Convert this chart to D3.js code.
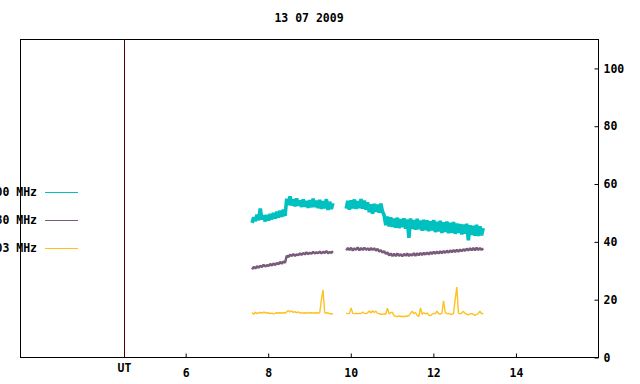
<!DOCTYPE html>
<html>
<head>
<meta charset="utf-8">
<script src="https://cdn.jsdelivr.net/npm/d3@7"></script>
<style>
  html, body { margin: 0; padding: 0; background: #fff; }
  svg { display: block; }
</style>
</head>
<body>
<div id="chart"></div>
<script>
(function () {

  // ── Data (hours UT, values) ─────────────────────────────────────────────
  var TITLE = "13 07 2009";
  var X_TICKS = [6, 8, 10, 12, 14];
  var Y_TICKS = [0, 20, 40, 60, 80, 100];
  var UT_MARK = 4.53;

  // each series is recorded in two runs, sampled every STEP hours
  var STEP = 0.04;
  var RUN_START = [7.62, 9.90];

  var cyanRun1 = [46.4, 48.3, 47.0, 49.2, 47.3, 51.4, 47.6, 49.0, 46.9, 49.1,
    47.2, 49.5, 47.6, 49.8, 47.9, 50.3, 48.2, 50.6, 48.5, 51.0,
    48.8, 54.8, 52.6, 55.6, 52.4, 54.6, 52.1, 54.9, 52.3, 54.2,
    51.9, 54.5, 52.0, 54.0, 51.6, 54.3, 51.8, 54.8, 51.9, 54.1,
    51.5, 54.4, 51.2, 53.9, 51.4, 54.6, 50.9, 53.7, 51.2, 53.2];
  var cyanRun2 = [51.3, 54.0, 51.0, 54.2, 51.4, 54.5, 51.2, 53.9, 51.5, 54.6,
    51.3, 54.1, 51.0, 53.5, 50.1, 52.8, 49.6, 53.0, 50.2, 52.7,
    49.9, 53.1, 50.3, 49.0, 45.6, 48.6, 45.2, 48.3, 45.0, 47.9,
    44.7, 48.2, 44.6, 47.7, 44.9, 48.0, 44.4, 47.6, 41.2, 47.9,
    44.3, 47.4, 44.0, 47.8, 44.2, 47.2, 43.7, 47.5, 43.9, 47.3,
    43.5, 46.9, 43.8, 47.4, 43.2, 46.8, 43.4, 47.1, 42.9, 46.6,
    43.3, 46.9, 42.8, 46.4, 43.0, 46.7, 42.6, 46.2, 42.9, 46.0,
    42.4, 45.8, 42.7, 46.1, 40.4, 45.6, 42.2, 45.4, 42.0, 45.7,
    41.9, 45.2, 42.1, 44.6];

  var purpleRun1 = [30.3, 31.2, 30.6, 31.4, 30.9, 31.6, 31.1, 31.9, 31.3, 31.8,
    31.5, 32.2, 31.6, 32.4, 31.8, 32.5, 32.1, 32.9, 32.3, 33.0,
    32.6, 35.0, 34.6, 35.4, 34.9, 35.6, 35.0, 35.5, 35.2, 35.9,
    35.3, 36.0, 35.5, 36.2, 35.6, 36.1, 35.7, 36.4, 35.8, 36.2,
    35.9, 36.5, 35.8, 36.4, 36.0, 36.7, 35.9, 36.3, 36.0, 36.6];
  var purpleRun2 = [36.9, 37.7, 37.0, 37.8, 36.8, 37.6, 37.1, 37.9, 36.9, 37.7,
    37.0, 37.8, 37.1, 37.6, 36.9, 37.7, 37.0, 37.6,
    36.8, 37.4, 36.5, 37.0, 36.1, 36.6, 35.7, 36.2, 35.1, 35.8, 34.9,
    35.7, 34.9, 35.8, 35.0, 35.6, 34.8, 35.7, 35.0, 35.8, 34.9, 35.6, 35.1, 35.9, 35.0,
    35.9, 35.2, 36.0, 35.3, 36.1, 35.4, 36.2, 35.4, 36.3, 35.6, 36.4, 35.7, 36.5, 35.8,
    36.6, 35.9, 36.7,
    36.0, 36.8, 36.1, 36.9, 36.2, 37.0, 36.3, 37.1, 36.4, 37.2,
    36.6, 37.3, 36.7, 37.5, 36.8, 37.6, 36.9, 37.7, 36.9, 37.8,
    37.0, 37.7, 37.0, 37.6];

  var yellowRun1 = [15.4, 14.8, 15.5, 15.0, 15.3, 15.4, 15.2, 15.5, 15.4, 15.2,
    15.3, 15.0, 15.2, 14.9, 15.1, 15.3, 15.2, 15.3, 15.2, 15.3,
    15.2, 15.6, 16.1, 15.6, 15.9, 15.4, 15.7, 15.3, 15.6, 15.3,
    15.2, 15.2, 15.3, 15.1, 15.4, 15.2, 15.3, 15.2, 15.2, 15.3,
    15.2, 15.3, 19.8, 23.2, 15.3, 15.2, 15.3, 14.9, 15.0, 14.8];
  var yellowRun2 = [15.1, 15.0, 15.1, 17.0, 15.1, 15.0, 15.1, 15.0, 15.1, 15.0,
    15.6, 15.1, 15.0, 15.3, 15.9, 15.2, 16.0, 15.4, 15.9, 15.1,
    15.0, 14.8, 14.8, 14.9, 14.8, 16.9, 14.9, 15.3, 15.5, 14.3,
    14.1, 14.0, 14.2, 14.0, 14.1, 13.9, 14.2, 14.1, 14.3, 15.1,
    15.9, 15.0, 15.4, 14.4, 14.0, 17.0, 14.8, 15.3, 14.9, 15.2,
    14.5, 14.3, 14.8, 15.1, 15.0, 15.9, 15.0, 14.8, 15.2, 19.4,
    15.4, 15.0, 15.1, 14.8, 14.8, 15.0, 19.8, 24.2, 15.2, 14.9,
    15.2, 15.8, 15.1, 14.8, 14.6, 14.9, 15.0, 14.8, 14.4, 14.7,
    15.0, 15.9, 14.9, 15.2];

  var SERIES_NAMES  = ["3000 MHz", "1880 MHz", "1003 MHz"];
  var SERIES_COLORS = ["#00c0c0", "#7a5a7a", "#ffc020"];
  var SERIES_WIDTH  = [3.6, 2.4, 1.4];
  var SERIES_RUNS   = [[cyanRun1, cyanRun2], [purpleRun1, purpleRun2], [yellowRun1, yellowRun2]];

  // ── Layout ─────────────────────────────────────────────────────────────
  var W = 640, H = 384;
  var M = { left: 20, right: 42, top: 39, bottom: 27 };
  var FONT = "'DejaVu Sans Mono', 'Liberation Mono', monospace";

  var svg = d3.select("#chart").append("svg")
    .attr("width", W)
    .attr("height", H)
    .style("font-family", FONT)
    .style("font-size", "11.5px")
    .style("font-weight", "bold");

  var x = d3.scaleLinear().domain([2, 16]).range([M.left, W - M.right]);
  var y = d3.scaleLinear().domain([0, 110]).range([H - M.bottom, M.top]);

  // ── Title ──────────────────────────────────────────────────────────────
  svg.append("text")
    .attr("x", (M.left + W - M.right) / 2)
    .attr("y", 22)
    .attr("text-anchor", "middle")
    .attr("fill", "#000")
    .text(TITLE);

  // ── Frame & axes ───────────────────────────────────────────────────────
  svg.append("rect")
    .attr("x", x(2) + 0.5).attr("y", y(110) + 0.5)
    .attr("width", x(16) - x(2)).attr("height", y(0) - y(110))
    .attr("fill", "none")
    .attr("stroke", "#000")
    .attr("stroke-width", 1);

  // bottom axis: inward ticks
  var xAxis = d3.axisBottom(x).tickValues(X_TICKS).tickSize(-4).tickPadding(8)
    .tickFormat(d3.format("d"));
  var gx = svg.append("g")
    .attr("transform", "translate(0.5," + (y(0) + 0.5) + ")")
    .call(xAxis);
  gx.select(".domain").remove();
  gx.selectAll("line").attr("stroke", "#000");
  gx.selectAll("text")
    .attr("y", 11)
    .attr("fill", "#000")
    .style("font-family", FONT).style("font-size", "11.5px").style("font-weight", "bold");

  // right axis: inward ticks, labels outside
  var yAxis = d3.axisRight(y).tickValues(Y_TICKS).tickSize(-4).tickPadding(8)
    .tickFormat(d3.format("d"));
  var gy = svg.append("g")
    .attr("transform", "translate(" + (x(16) + 0.5) + ",0.5)")
    .call(yAxis);
  gy.select(".domain").remove();
  gy.selectAll("line").attr("stroke", "#000");
  gy.selectAll("text")
    .attr("x", 5)
    .attr("fill", "#000")
    .style("font-family", FONT).style("font-size", "11.5px").style("font-weight", "bold");

  // UT marker line
  svg.append("line")
    .attr("x1", Math.round(x(UT_MARK)) + 0.5).attr("x2", Math.round(x(UT_MARK)) + 0.5)
    .attr("y1", y(110)).attr("y2", y(0))
    .attr("stroke", "#4a0000")
    .attr("stroke-width", 1);

  svg.append("text")
    .attr("x", x(UT_MARK))
    .attr("y", 372)
    .attr("text-anchor", "middle")
    .attr("fill", "#000")
    .text("UT");

  // ── Series ─────────────────────────────────────────────────────────────
  var line = d3.line()
    .x(function (d) { return x(d.t); })
    .y(function (d) { return y(d.v); });

  SERIES_RUNS.forEach(function (runs, si) {
    runs.forEach(function (vals, ri) {
      var pts = vals.map(function (v, i) {
        return { t: RUN_START[ri] + i * STEP, v: v };
      });
      svg.append("path")
        .datum(pts)
        .attr("d", line)
        .attr("fill", "none")
        .attr("stroke", SERIES_COLORS[si])
        .attr("stroke-width", SERIES_WIDTH[si])
        .attr("stroke-linejoin", "bevel");
    });
  });

  // ── Legend ─────────────────────────────────────────────────────────────
  var LEG_Y = [191.5, 219.5, 248];
  SERIES_NAMES.forEach(function (name, i) {
    svg.append("text")
      .attr("x", 37)
      .attr("y", LEG_Y[i])
      .attr("dy", "0.35em")
      .attr("text-anchor", "end")
      .attr("fill", "#000")
      .text(name);
    svg.append("line")
      .attr("x1", 45).attr("x2", 78)
      .attr("y1", Math.round(LEG_Y[i]) + 0.5).attr("y2", Math.round(LEG_Y[i]) + 0.5)
      .attr("stroke", SERIES_COLORS[i])
      .attr("stroke-width", 1);
  });

})();
</script>
</body>
</html>
